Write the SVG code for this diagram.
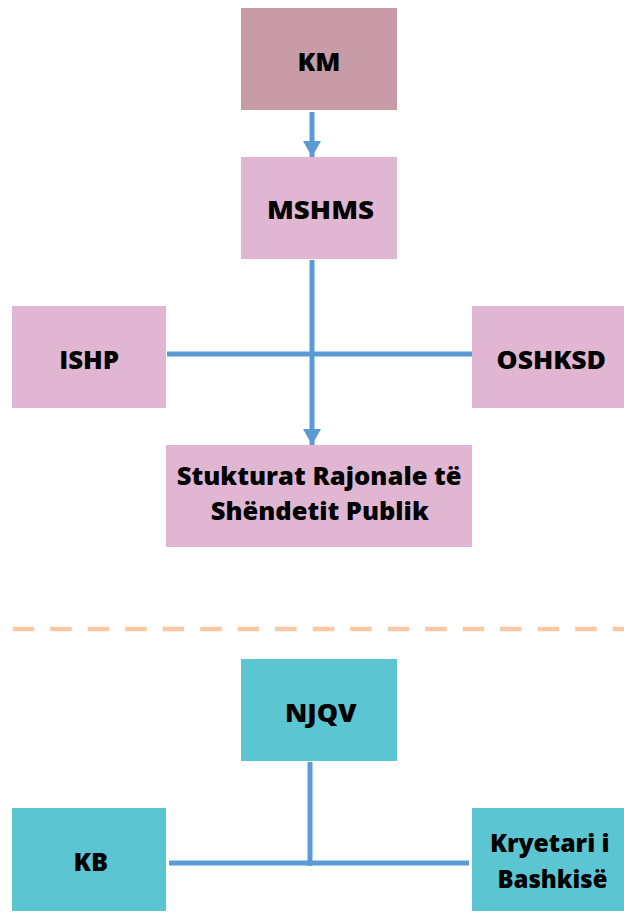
<svg xmlns="http://www.w3.org/2000/svg" width="624" height="918" viewBox="0 0 624 918">
<style>
.box-km{fill:#c79ca6}
.box-p{fill:#e0b6d3}
.box-t{fill:#5bc5d1}
.lbl{font-family:"Open Sans","Liberation Sans",sans-serif;font-weight:800;font-size:24px;fill:#000;text-anchor:middle}
.conn{stroke:#5b9bd5;stroke-width:5;fill:none}
.sep{stroke:#fac8a5;stroke-width:4.5;stroke-dasharray:21.5 16;fill:none}
</style>
<defs>
<marker id="ah" markerUnits="userSpaceOnUse" markerWidth="16" markerHeight="18" refX="16" refY="9" orient="auto" viewBox="0 0 16 18">
<path d="M0,0 L16,9 L0,18 Z" fill="#5b9bd5"/>
</marker>
</defs>
<g id="connectors">
<line class="conn" x1="312" y1="112" x2="312" y2="157" marker-end="url(#ah)"/>
<line class="conn" x1="312" y1="260" x2="312" y2="445" marker-end="url(#ah)"/>
<line class="conn" x1="167" y1="354" x2="472" y2="354"/>
<line class="conn" x1="310" y1="762" x2="310" y2="866"/>
<line class="conn" x1="169" y1="863" x2="469" y2="863"/>
</g>
<g id="separator">
<line class="sep" x1="12.7" y1="629" x2="624" y2="629"/>
</g>
<g id="km">
<rect class="box-km" x="241" y="8" width="156" height="102"/>
<text class="lbl" x="319" y="70.7" textLength="43" lengthAdjust="spacingAndGlyphs">KM</text>
</g>
<g id="mshms">
<rect class="box-p" x="241" y="157" width="156" height="102"/>
<text class="lbl" x="320.5" y="219" textLength="107" lengthAdjust="spacingAndGlyphs">MSHMS</text>
</g>
<g id="ishp">
<rect class="box-p" x="12" y="306" width="154" height="102"/>
<text class="lbl" x="89.2" y="368.7" textLength="60" lengthAdjust="spacingAndGlyphs">ISHP</text>
</g>
<g id="oshksd">
<rect class="box-p" x="472" y="306" width="152" height="102"/>
<text class="lbl" x="551.3" y="368.7" textLength="109.5" lengthAdjust="spacingAndGlyphs">OSHKSD</text>
</g>
<g id="stukturat">
<rect class="box-p" x="166" y="445" width="306" height="102"/>
<text class="lbl" x="319.2" y="485" textLength="285" lengthAdjust="spacingAndGlyphs">Stukturat Rajonale të</text>
<text class="lbl" x="319.7" y="520" textLength="218" lengthAdjust="spacingAndGlyphs">Shëndetit Publik</text>
</g>
<g id="njqv">
<rect class="box-t" x="241" y="659" width="156" height="102"/>
<text class="lbl" x="320.8" y="721.7" textLength="71.7" lengthAdjust="spacingAndGlyphs">NJQV</text>
</g>
<g id="kb">
<rect class="box-t" x="12" y="808" width="154" height="103"/>
<text class="lbl" x="90.9" y="870.7" textLength="34.6" lengthAdjust="spacingAndGlyphs">KB</text>
</g>
<g id="kryetari">
<rect class="box-t" x="472" y="808" width="152" height="103"/>
<text class="lbl" x="549.8" y="851.7" textLength="119.6" lengthAdjust="spacingAndGlyphs">Kryetari i</text>
<text class="lbl" x="552.5" y="888.3" textLength="110" lengthAdjust="spacingAndGlyphs">Bashkisë</text>
</g>
</svg>
